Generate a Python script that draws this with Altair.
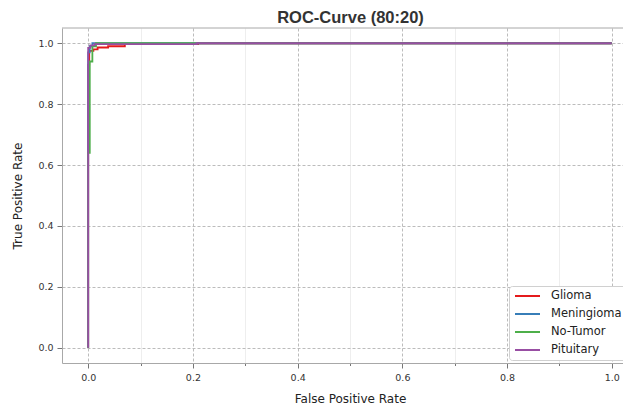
import altair as alt
import pandas as pd

series = ["Glioma", "Meningioma", "No-Tumor", "Pituitary"]
colors = ["#e41a1c", "#377eb8", "#4daf4a", "#984ea3"]

glioma_fpr = [0.0, 0.0, 0.002, 0.002, 0.010, 0.010, 0.018, 0.018, 0.038, 0.038, 0.070, 0.070, 0.21, 0.21, 1.0]
glioma_tpr = [0.0, 0.93, 0.93, 0.975, 0.975, 0.980, 0.980, 0.986, 0.986, 0.990, 0.990, 0.997, 0.997, 1.0, 1.0]

meningioma_fpr = [0.0, 0.0, 0.003, 0.003, 0.008, 0.008, 1.0]
meningioma_tpr = [0.0, 0.97, 0.97, 0.99, 0.99, 1.0, 1.0]

notumor_fpr = [0.0, 0.0, 0.003, 0.003, 0.008, 0.008, 0.015, 0.015, 1.0]
notumor_tpr = [0.0, 0.64, 0.64, 0.94, 0.94, 0.99, 0.99, 1.0, 1.0]

pituitary_fpr = [0.0, 0.0, 0.004, 0.004, 0.012, 0.012, 0.207, 0.207, 1.0]
pituitary_tpr = [0.0, 0.985, 0.985, 0.993, 0.993, 0.997, 0.997, 1.0, 1.0]

tick_values = [0.0, 0.05, 0.1, 0.15, 0.2, 0.25, 0.3, 0.35, 0.4, 0.45, 0.5,
               0.55, 0.6, 0.65, 0.7, 0.75, 0.8, 0.85, 0.9, 0.95, 1.0]

x_domain = [-0.05, 1.05]
y_domain = [-0.05, 1.05]

rows = []
for name, fx, ty in [
    ("Glioma", glioma_fpr, glioma_tpr),
    ("Meningioma", meningioma_fpr, meningioma_tpr),
    ("No-Tumor", notumor_fpr, notumor_tpr),
    ("Pituitary", pituitary_fpr, pituitary_tpr),
]:
    for i, (a, b) in enumerate(zip(fx, ty)):
        rows.append({"series": name, "fpr": a, "tpr": b, "idx": i})
df = pd.DataFrame(rows)

major = "abs(datum.value*5 - round(datum.value*5)) < 0.001"


def make_axis(title, pad):
    return alt.Axis(
        title=title,
        values=tick_values,
        grid=True,
        gridColor={"condition": {"test": major, "value": "#b4b4b4"}, "value": "#ececec"},
        gridDash={"condition": {"test": major, "value": [3, 2]}, "value": []},
        gridWidth=0.9,
        tickSize={"condition": {"test": major, "value": 5}, "value": 2.5},
        tickColor="#666",
        tickWidth=0.9,
        domain=True,
        domainColor="#a8a8a8",
        domainWidth=1,
        labelExpr=f"{major} ? format(datum.value, '.1f') : ''",
        labelOverlap=False,
        labelFlush=False,
        labelFont="DejaVu Sans",
        labelFontSize=9.5,
        labelColor="#333",
        labelPadding=4,
        titleFont="DejaVu Sans",
        titleFontSize=12,
        titleFontWeight="normal",
        titleColor="#222",
        titlePadding=pad,
    )


x_scale = alt.Scale(domain=x_domain, range=[0, 576], nice=False, zero=False)
y_scale = alt.Scale(domain=y_domain, nice=False, zero=False)

lines = (
    alt.Chart(df)
    .mark_line(strokeWidth=1.8)
    .encode(
        x=alt.X("fpr:Q", scale=x_scale, axis=make_axis("False Positive Rate", 12)),
        y=alt.Y("tpr:Q", scale=y_scale, axis=make_axis("True Positive Rate", 13)),
        color=alt.Color(
            "series:N",
            scale=alt.Scale(domain=series, range=colors),
            legend=alt.Legend(
                title=None,
                orient="none",
                legendX=447,
                legendY=258,
                symbolType="M-0.8,0H4.2",
                symbolSize=100,
                symbolStrokeWidth=2,
                labelFont="DejaVu Sans",
                labelFontSize=11.5,
                labelColor="#222",
                labelOffset=26,
                fillColor="white",
                strokeColor="#d0d0d0",
                cornerRadius=3,
                padding=4,
                rowPadding=6,
            ),
        ),
        order=alt.Order("idx:Q"),
    )
)

top_frame = (
    alt.Chart()
    .mark_rule(color="#a8a8a8", strokeWidth=1)
    .encode(
        x=alt.datum(x_domain[0], type="quantitative"),
        x2=alt.datum(x_domain[1]),
        y=alt.datum(y_domain[1], type="quantitative"),
    )
)

chart = (
    alt.layer(lines, top_frame)
    .properties(
        width=561,
        height=335,
        title=alt.TitleParams(
            "ROC-Curve (80:20)",
            font="Liberation Sans",
            fontSize=16.5,
            fontWeight="bold",
            color="#333",
            offset=1,
            dx=8,
        ),
        autosize=alt.AutoSizeParams(type="none"),
        padding={"left": 54, "top": 20, "right": 0, "bottom": 48},
        background="white",
    )
    .configure_view(stroke=None)
)

chart.save("out.html", embed_options={"renderer": "svg", "actions": False})
